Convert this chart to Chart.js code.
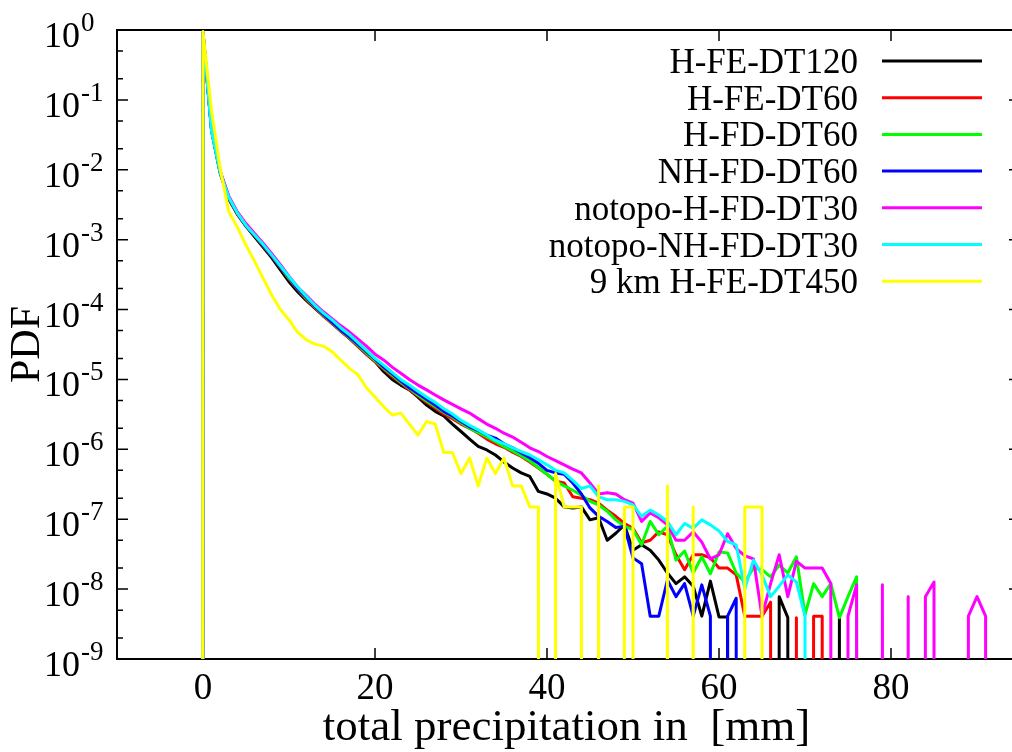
<!DOCTYPE html>
<html>
<head>
<meta charset="utf-8">
<title>PDF of total precipitation</title>
<script src="https://cdn.jsdelivr.net/npm/chart.js@4.4.1/dist/chart.umd.min.js"></script>
<style>
    html, body { margin: 0; padding: 0; background: #fff; overflow: hidden; }
    canvas { display: block; }
</style>
</head>
<body>
<canvas id="grafico-pdf" width="1030" height="752"></canvas>
<script>
// bin centres (mm)
const precip = [-1, 0, 1, 2, 3, 4, 5, 6, 7, 8, 9, 10, 11, 12, 13, 14, 15, 16, 17, 18, 19,
    20, 21, 22, 23, 24, 25, 26, 27, 28, 29, 30, 31, 32, 33, 34, 35, 36, 37, 38, 39,
    40, 41, 42, 43, 44, 45, 46, 47, 48, 49, 50, 51, 52, 53, 54, 55, 56, 57, 58, 59,
    60, 61, 62, 63, 64, 65, 66, 67, 68, 69, 70, 71, 72, 73, 74, 75, 76, 77, 78, 79,
    80, 81, 82, 83, 84, 85, 86, 87, 88, 89, 90, 91, 92]

// PDF values, one per bin starting at -1 mm
const hFeDt120 = [0, 0.91, 3.6e-2, 8.9e-3, 3.8e-3, 2.3e-3, 1.55e-3, 1.1e-3, 7.8e-4, 5.5e-4, 3.7e-4,
    2.5e-4, 1.8e-4, 1.35e-4, 1.05e-4, 8.1e-5, 6.5e-5, 5.0e-5, 3.9e-5, 3.0e-5, 2.3e-5,
    1.8e-5, 1.3e-5, 1.0e-5, 8.3e-6, 7.1e-6, 5.6e-6, 4.3e-6, 3.5e-6, 3.0e-6, 2.3e-6,
    1.8e-6, 1.4e-6, 1.1e-6, 9.8e-7, 8.3e-7, 6.6e-7, 5.4e-7, 4.6e-7, 4.1e-7, 2.5e-7,
    2.3e-7, 2.0e-7, 1.5e-7, 1.45e-7, 1.5e-7, 9.8e-8, 1.05e-7, 5.0e-8, 6.3e-8, 8.3e-8,
    3.6e-8, 4.3e-8, 3.6e-8, 2.6e-8, 1.7e-8, 1.2e-8, 1.5e-8, 1.1e-8, 4.1e-9, 1.3e-8,
    4.0e-9, 4.0e-9, 0, 0, 0, 0, 0, 7.8e-9, 3.9e-9, 0,
    0, 0, 0, 0, 3.9e-9, 0]

const hFeDt60 = [0, 0.91, 3.6e-2, 9.1e-3, 3.9e-3, 2.3e-3, 1.6e-3, 1.15e-3, 8.1e-4, 5.8e-4, 4.0e-4,
    2.75e-4, 1.95e-4, 1.4e-4, 1.07e-4, 8.1e-5, 6.3e-5, 4.9e-5, 3.9e-5, 3.0e-5, 2.3e-5,
    1.8e-5, 1.4e-5, 1.1e-5, 8.9e-6, 7.1e-6, 5.8e-6, 4.7e-6, 3.9e-6, 3.2e-6, 2.75e-6,
    2.3e-6, 2.0e-6, 1.7e-6, 1.4e-6, 1.2e-6, 1.07e-6, 9.1e-7, 7.9e-7, 6.6e-7, 5.4e-7,
    4.4e-7, 3.5e-7, 3.3e-7, 2.1e-7, 2.0e-7, 1.9e-7, 1.7e-7, 1.35e-7, 1.1e-7, 8.7e-8,
    7.4e-8, 4.6e-8, 5.0e-8, 6.6e-8, 6.0e-8, 3.1e-8, 1.9e-8, 3.1e-8, 3.1e-8, 2.8e-8,
    2.0e-8, 2.0e-8, 1.6e-8, 4.1e-9, 4.1e-9, 4.1e-9, 6.5e-9, 0, 0, 3.9e-9,
    0, 4.1e-9, 4.1e-9, 0]

const hFdDt60 = [0, 0.91, 3.6e-2, 9.1e-3, 4.0e-3, 2.4e-3, 1.6e-3, 1.17e-3, 8.3e-4, 5.9e-4, 4.1e-4,
    2.8e-4, 2.0e-4, 1.45e-4, 1.1e-4, 8.3e-5, 6.5e-5, 5.0e-5, 4.0e-5, 3.1e-5, 2.4e-5,
    1.86e-5, 1.45e-5, 1.15e-5, 9.1e-6, 7.4e-6, 6.0e-6, 4.9e-6, 4.1e-6, 3.4e-6, 2.9e-6,
    2.4e-6, 2.0e-6, 1.74e-6, 1.5e-6, 1.3e-6, 1.1e-6, 9.5e-7, 8.1e-7, 6.8e-7, 5.5e-7,
    4.4e-7, 3.5e-7, 3.0e-7, 2.6e-7, 2.2e-7, 1.8e-7, 1.6e-7, 1.3e-7, 9.8e-8, 7.9e-8,
    7.1e-8, 4.3e-8, 9.3e-8, 6.0e-8, 7.9e-8, 2.6e-8, 3.5e-8, 1.7e-8, 2.9e-8, 1.66e-8,
    3.4e-8, 3.3e-8, 1.7e-8, 1.26e-8, 2.0e-8, 1.9e-8, 1.5e-8, 2.2e-8, 1.7e-8, 2.9e-8,
    4.3e-9, 1.2e-8, 7.8e-9, 1.2e-8, 3.9e-9, 7.8e-9, 1.5e-8, 0]

const nhFdDt60 = [0, 0.89, 3.7e-2, 9.3e-3, 4.0e-3, 2.4e-3, 1.6e-3, 1.17e-3, 8.3e-4, 5.9e-4, 4.1e-4,
    2.9e-4, 2.0e-4, 1.5e-4, 1.12e-4, 8.5e-5, 6.6e-5, 5.1e-5, 4.1e-5, 3.2e-5, 2.5e-5,
    1.95e-5, 1.5e-5, 1.2e-5, 9.5e-6, 7.6e-6, 6.3e-6, 5.2e-6, 4.3e-6, 3.5e-6, 3.0e-6,
    2.5e-6, 2.1e-6, 1.86e-6, 1.6e-6, 1.45e-6, 1.2e-6, 1.05e-6, 8.9e-7, 7.6e-7, 6.3e-7,
    5.0e-7, 4.6e-7, 4.4e-7, 3.3e-7, 2.3e-7, 1.45e-7, 1.1e-7, 9.3e-8, 7.6e-8, 7.9e-8,
    2.8e-8, 2.3e-8, 4.1e-9, 4.1e-9, 1.35e-8, 7.8e-9, 1.2e-8, 4.1e-9, 1.15e-8, 4.1e-9,
    0, 4.1e-9, 7.4e-9, 0]

const notopoHFdDt30 = [0, 0.93, 3.8e-2, 9.5e-3, 4.2e-3, 2.5e-3, 1.7e-3, 1.23e-3, 8.9e-4, 6.3e-4, 4.4e-4,
    3.0e-4, 2.1e-4, 1.6e-4, 1.2e-4, 9.3e-5, 7.4e-5, 5.9e-5, 4.8e-5, 3.8e-5, 3.0e-5,
    2.3e-5, 1.9e-5, 1.5e-5, 1.23e-5, 1.0e-5, 8.3e-6, 7.1e-6, 6.0e-6, 5.1e-6, 4.4e-6,
    3.8e-6, 3.3e-6, 2.75e-6, 2.3e-6, 2.0e-6, 1.7e-6, 1.5e-6, 1.26e-6, 1.05e-6, 9.3e-7,
    7.9e-7, 6.9e-7, 6.0e-7, 5.2e-7, 4.6e-7, 3.3e-7, 2.3e-7, 2.4e-7, 2.3e-7, 1.9e-7,
    1.7e-7, 9.3e-8, 1.23e-7, 1.05e-7, 8.3e-8, 5.0e-8, 5.0e-8, 6.6e-8, 4.7e-8, 2.7e-8,
    3.1e-8, 6.2e-8, 3.8e-8, 3.0e-8, 2.7e-8, 4.1e-9, 1.2e-8, 3.1e-8, 7.8e-9, 2.5e-8,
    2.0e-8, 2.0e-8, 2.0e-8, 1.2e-8, 0, 4.1e-9, 1.15e-8, 0, 0, 1.15e-8,
    0, 0, 7.8e-9, 0, 7.8e-9, 1.26e-8, 0, 0, 0, 4.1e-9,
    7.8e-9, 4.1e-9, 0]

const notopoNhFdDt30 = [0, 0.89, 3.5e-2, 9.1e-3, 4.0e-3, 2.4e-3, 1.6e-3, 1.17e-3, 8.5e-4, 6.0e-4, 4.2e-4,
    2.95e-4, 2.1e-4, 1.55e-4, 1.15e-4, 8.9e-5, 7.1e-5, 5.5e-5, 4.4e-5, 3.4e-5, 2.6e-5,
    2.0e-5, 1.6e-5, 1.26e-5, 1.0e-5, 8.3e-6, 6.8e-6, 5.6e-6, 4.7e-6, 3.8e-6, 3.2e-6,
    2.6e-6, 2.2e-6, 1.9e-6, 1.6e-6, 1.35e-6, 1.2e-6, 1.05e-6, 9.3e-7, 8.3e-7, 7.1e-7,
    6.0e-7, 5.0e-7, 4.6e-7, 3.6e-7, 2.75e-7, 3.0e-7, 2.1e-7, 1.9e-7, 1.9e-7, 1.8e-7,
    1.6e-7, 1.1e-7, 1.35e-7, 1.15e-7, 9.3e-8, 6.0e-8, 8.7e-8, 7.4e-8, 9.8e-8, 8.3e-8,
    6.8e-8, 4.8e-8, 4.3e-8, 1.0e-8, 2.6e-8, 1.6e-8, 7.8e-9, 1.1e-8, 1.6e-8, 1.26e-8,
    4.1e-9, 0]

const km9HFeDt450 = [0, 0.95, 6.8e-2, 1.05e-2, 2.5e-3, 1.5e-3, 8.3e-4, 4.9e-4, 2.8e-4, 1.6e-4, 1.0e-4,
    7.1e-5, 4.7e-5, 3.7e-5, 3.2e-5, 3.0e-5, 2.5e-5, 1.9e-5, 1.45e-5, 1.17e-5, 7.6e-6,
    5.6e-6, 4.1e-6, 3.1e-6, 3.3e-6, 2.3e-6, 1.6e-6, 2.5e-6, 2.3e-6, 9.0e-7, 9.0e-7,
    4.5e-7, 7.5e-7, 3.0e-7, 7.5e-7, 4.5e-7, 7.5e-7, 3.0e-7, 3.0e-7, 1.5e-7, 1.5e-7,
    0, 4.5e-7, 1.5e-7, 1.5e-7, 1.5e-7, 0, 3.0e-7, 0, 0, 1.5e-7,
    1.5e-7, 0, 0, 0, 3.0e-7, 0, 0, 1.5e-7, 0, 0,
    0, 0, 0, 1.5e-7, 1.5e-7, 1.5e-7, 0]

const names = ['H-FE-DT120', 'H-FE-DT60', 'H-FD-DT60', 'NH-FD-DT60',
    'notopo-H-FD-DT30', 'notopo-NH-FD-DT30', '9 km H-FE-DT450']
const colors = ['#000000', '#ff0000', '#00ff00', '#0000ff', '#ff00ff', '#00ffff', '#ffff00']
const series = [hFeDt120, hFeDt60, hFdDt60, nhFdDt60, notopoHFdDt30, notopoNhFdDt30, km9HFeDt450]

const xTicks = [0, 20, 40, 60, 80]
const yExps = [0, -1, -2, -3, -4, -5, -6, -7, -8, -9]

const font = '"Liberation Serif", "Times New Roman", serif'

// gnuplot takes log(0) as -inf, so an empty bin falls straight to the floor
const floor = 1e-300

const datasets = series.map((values, i) => ({
    label: names[i],
    data: values.map((v, j) => ({ x: precip[j], y: v === 0 ? floor : v })),
    borderColor: colors[i],
    backgroundColor: colors[i],
    borderWidth: 3,
    borderJoinStyle: 'round',
    pointRadius: 0,
    tension: 0,
    fill: false,
    // last series on top, like gnuplot
    order: series.length - i
}))

const gnuplotLook = {
    id: 'gnuplotLook',
    beforeDatasetsDraw(chart) {
        const { ctx, chartArea: a, scales: { x, y } } = chart
        ctx.save()
        ctx.strokeStyle = '#000'
        ctx.lineWidth = 1.5
        ctx.beginPath()
        xTicks.forEach(v => {
            const px = x.getPixelForValue(v)
            ctx.moveTo(px, a.bottom)
            ctx.lineTo(px, a.bottom - 11)
            ctx.moveTo(px, a.top)
            ctx.lineTo(px, a.top + 11)
        })
        yExps.forEach(p => {
            const py = y.getPixelForValue(Math.pow(10, p))
            ctx.moveTo(a.left, py)
            ctx.lineTo(a.left + 11, py)
            ctx.moveTo(a.right, py)
            ctx.lineTo(a.right - 11, py)
            if (p > -9) {
                [2, 5].forEach(m => {
                    const pm = y.getPixelForValue(m * Math.pow(10, p - 1))
                    ctx.moveTo(a.left, pm)
                    ctx.lineTo(a.left + 6, pm)
                    ctx.moveTo(a.right, pm)
                    ctx.lineTo(a.right - 6, pm)
                })
            }
        })
        ctx.stroke()
        ctx.lineWidth = 2
        ctx.strokeRect(a.left, a.top, a.right - a.left, a.bottom - a.top)
        ctx.restore()
    },
    afterDraw(chart) {
        const { ctx, chartArea: a, scales: { x, y } } = chart
        ctx.save()
        ctx.fillStyle = '#000'
        ctx.textBaseline = 'alphabetic'

        // y tick labels 10^n
        yExps.forEach(p => {
            const py = y.getPixelForValue(Math.pow(10, p))
            ctx.font = `36px ${font}`
            ctx.textAlign = 'right'
            ctx.fillText('10', a.left - 37, py + 17)
            ctx.font = `27px ${font}`
            ctx.textAlign = 'left'
            ctx.fillText(String(p), a.left - 36, py + 1)
        })

        // x tick labels and title
        ctx.font = `37px ${font}`
        ctx.textAlign = 'center'
        xTicks.forEach(v => ctx.fillText(String(v), x.getPixelForValue(v), a.bottom + 40))

        ctx.font = `45px ${font}`
        ctx.fillText('total precipitation in  [mm]', (a.left + a.right) / 2 - 2, a.bottom + 81)

        ctx.font = `42px ${font}`
        ctx.save()
        ctx.translate(39, (a.top + a.bottom) / 2)
        ctx.rotate(-Math.PI / 2)
        ctx.fillText('PDF', 0, 0)
        ctx.restore()

        // key, text on the left of the sample line
        ctx.font = `35px ${font}`
        names.forEach((n, i) => {
            const ly = a.top + 31 + i * 36.7
            ctx.textAlign = 'right'
            ctx.fillText(n, 858, ly + 12)
            ctx.strokeStyle = colors[i]
            ctx.lineWidth = 3
            ctx.beginPath()
            ctx.moveTo(882, ly)
            ctx.lineTo(982, ly)
            ctx.stroke()
        })
        ctx.restore()
    }
}

const chartPdf = new Chart(document.getElementById('grafico-pdf'), {
    type: 'line',
    data: { datasets },
    options: {
        responsive: false,
        animation: false,
        devicePixelRatio: 1,
        layout: { padding: { left: 117, top: 30, right: 10, bottom: 93 } },
        plugins: {
            legend: { display: false },
            tooltip: { enabled: false }
        },
        scales: {
            x: { type: 'linear', min: -10, max: 95, display: false },
            y: { type: 'logarithmic', min: 1e-9, max: 1, display: false }
        }
    },
    plugins: [gnuplotLook]
})
</script>
</body>
</html>
